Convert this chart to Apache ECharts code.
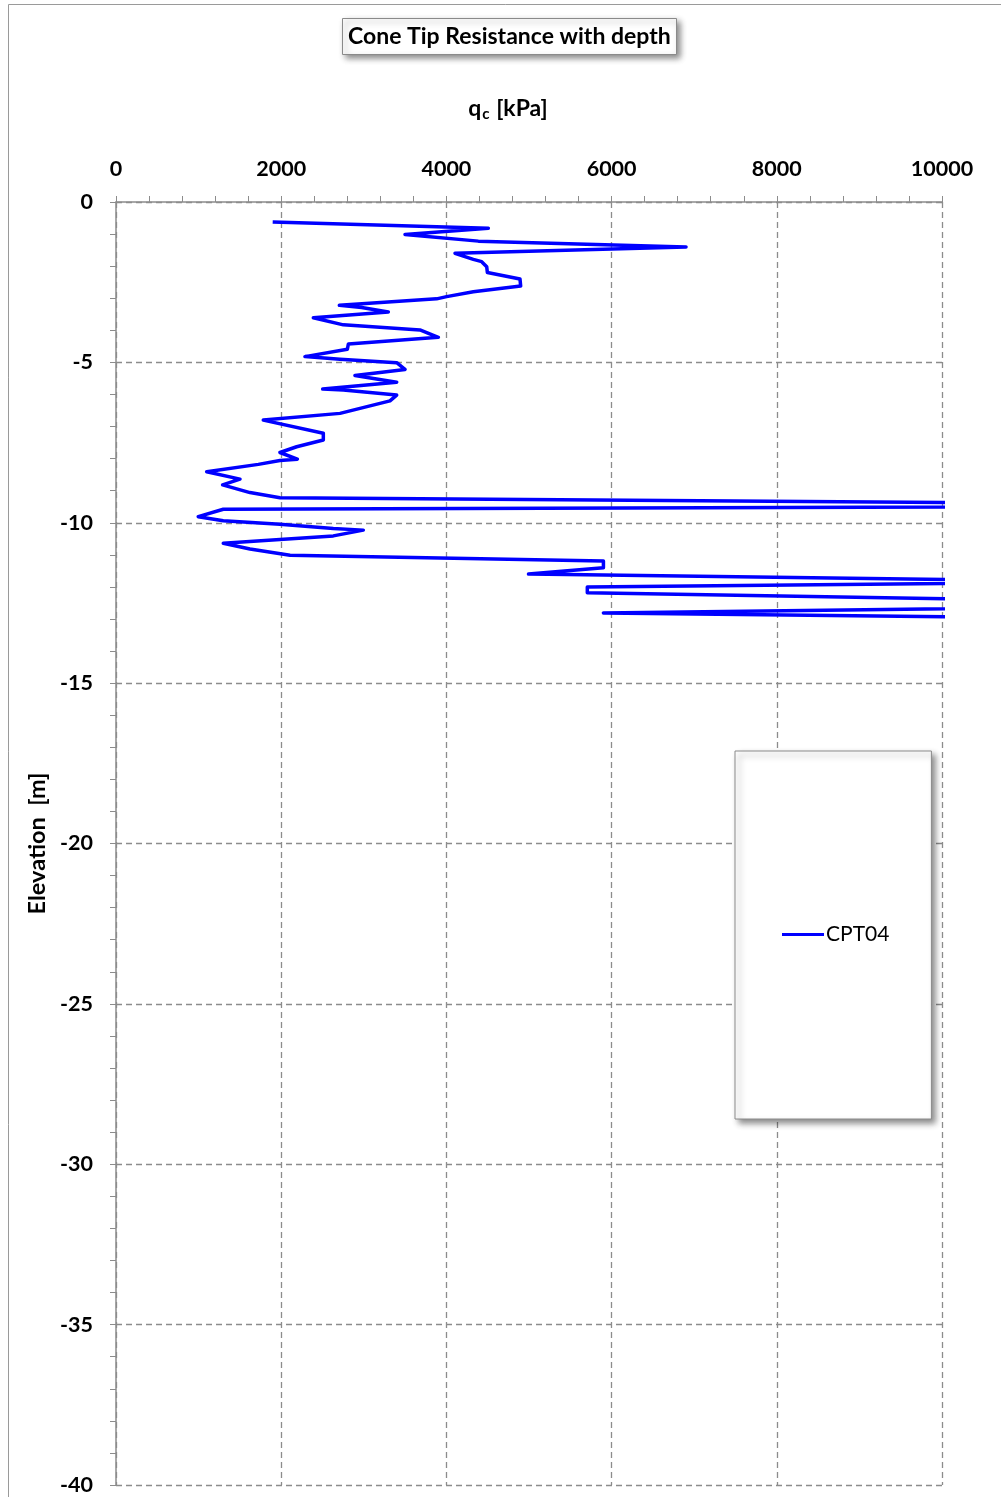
<!DOCTYPE html>
<html><head><meta charset="utf-8">
<script src="https://cdn.jsdelivr.net/npm/echarts@6/dist/echarts.min.js"></script>
<style>html,body{margin:0;padding:0;background:#fff}#c{width:1001px;height:1497px}</style>
</head><body><div id="c"></div>
<script>
// CPT04 cone tip resistance qc [kPa] and elevation [m]
const qc = [1897,4508,3499,4387,6901,4104,4326,4427,4488,4496,4891,4899,4326,4003,3882,2704,2974,3297,2389,2752,3680,3761,3902,2813,2801,2288,2712,3398,3499,2893,3398,2502,2752,3398,3317,2712,1783,2510,2510,2187,1985,2195,1985,1723,1098,1501,1291,1622,1985,15200,1299,996,1299,1985,2631,2994,2631,1985,1299,1622,2107,5901,5901,4994,12200,5706,5706,14250,5901,12300];
const elev = [-0.62,-0.82,-1.01,-1.22,-1.40,-1.60,-1.79,-1.86,-2.02,-2.20,-2.40,-2.62,-2.80,-2.95,-3.02,-3.22,-3.29,-3.43,-3.61,-3.83,-3.99,-4.07,-4.22,-4.43,-4.59,-4.82,-4.90,-5.01,-5.22,-5.41,-5.62,-5.83,-5.86,-6.02,-6.20,-6.59,-6.80,-7.21,-7.42,-7.63,-7.81,-8.02,-8.06,-8.18,-8.41,-8.64,-8.82,-9.06,-9.22,-9.47,-9.58,-9.81,-9.94,-10.05,-10.18,-10.23,-10.41,-10.52,-10.64,-10.82,-11.01,-11.19,-11.40,-11.60,-11.84,-12.00,-12.18,-12.55,-12.81,-13.00];
const seriesName = 'CPT04';
const xTicks = [0,2000,4000,6000,8000,10000];
const yTicks = [0,-5,-10,-15,-20,-25,-30,-35,-40];

const FONT = 'Lato';
const chart = echarts.init(document.getElementById('c'), null, {renderer:'canvas'});
chart.setOption({
  animation:false,
  backgroundColor:'#fff',
  graphic:[{type:'rect',shape:{x:8.5,y:4.5,width:1010,height:1510},style:{fill:'none',stroke:'#9a9a9a',lineWidth:1},z:-1}],
  title:{
    text:'Cone Tip Resistance with depth',
    left:342, top:18,
    padding:[7,6,7,6],
    borderColor:'#8a8a8a', borderWidth:1, backgroundColor:'#fff',
    shadowColor:'rgba(0,0,0,0.45)', shadowBlur:6, shadowOffsetX:3, shadowOffsetY:3,
    textStyle:{fontFamily:FONT,fontSize:23,fontWeight:'bold',color:'#000'}
  },
  legend:{
    data:[seriesName],
    left:735, top:751,
    orient:'vertical',
    padding:[173,42,174,47],
    itemWidth:42, itemHeight:4, itemGap:0,
    backgroundColor:'#fff', borderColor:'#8a8a8a', borderWidth:1,
    shadowColor:'rgba(0,0,0,0.45)', shadowBlur:6, shadowOffsetX:4, shadowOffsetY:4,
    icon:'path://M0,0 L42,0 L42,3 L0,3 Z',
    textStyle:{fontFamily:FONT,fontSize:21,color:'#000',padding:[0,0,0,-3]}
  },
  grid:{left:116, top:202, width:826, height:1283, containLabel:false},
  xAxis:{
    type:'value', position:'top', min:0, max:10000, interval:2000,
    name:'{b|q}{s|c}{b| [kPa]}', nameLocation:'middle', nameGap:80,
    nameTextStyle:{padding:[0,42,0,0],rich:{b:{fontFamily:FONT,fontSize:23,fontWeight:'bold',color:'#000'},s:{fontFamily:FONT,fontSize:15,fontWeight:'bold',color:'#000',padding:[11,1,0,1]}}},
    axisLine:{show:true,onZero:false,lineStyle:{color:'#8c8c8c',width:1.5}},
    axisTick:{show:true,inside:false,length:6,lineStyle:{color:'#8c8c8c'}},
    minorTick:{show:true,splitNumber:5,length:6,lineStyle:{color:'#8c8c8c'}},
    axisLabel:{fontFamily:FONT,fontSize:21.5,fontWeight:'bold',color:'#000',margin:22,
      formatter:v=>xTicks.includes(v)?String(v):''},
    splitLine:{show:true,lineStyle:{color:'#8c8c8c',type:[6,4],width:1.3}}
  },
  yAxis:{
    type:'value', min:-40, max:0, interval:5,
    name:'Elevation  [m]', nameLocation:'middle', nameGap:64, nameRotate:90,
    nameTextStyle:{fontFamily:FONT,fontSize:23.5,fontWeight:'bold',color:'#000'},
    axisLine:{show:true,onZero:false,lineStyle:{color:'#8c8c8c',width:1.5}},
    axisTick:{show:true,length:6,lineStyle:{color:'#8c8c8c'}},
    minorTick:{show:true,splitNumber:5,length:6,lineStyle:{color:'#8c8c8c'}},
    axisLabel:{fontFamily:FONT,fontSize:21.5,fontWeight:'bold',color:'#000',margin:23,
      formatter:v=>yTicks.includes(v)?String(v):''},
    splitLine:{show:true,lineStyle:{color:'#8c8c8c',type:[6,4],width:1.3}}
  },
  series:[{
    name:seriesName, type:'line', clip:true,
    data:qc.map((v,i)=>[v,elev[i]]),
    showSymbol:false, symbol:'none',
    lineStyle:{color:'#0000ff',width:3.5,join:'round'},
    itemStyle:{color:'#0000ff'}
  }]
});
</script></body></html>
